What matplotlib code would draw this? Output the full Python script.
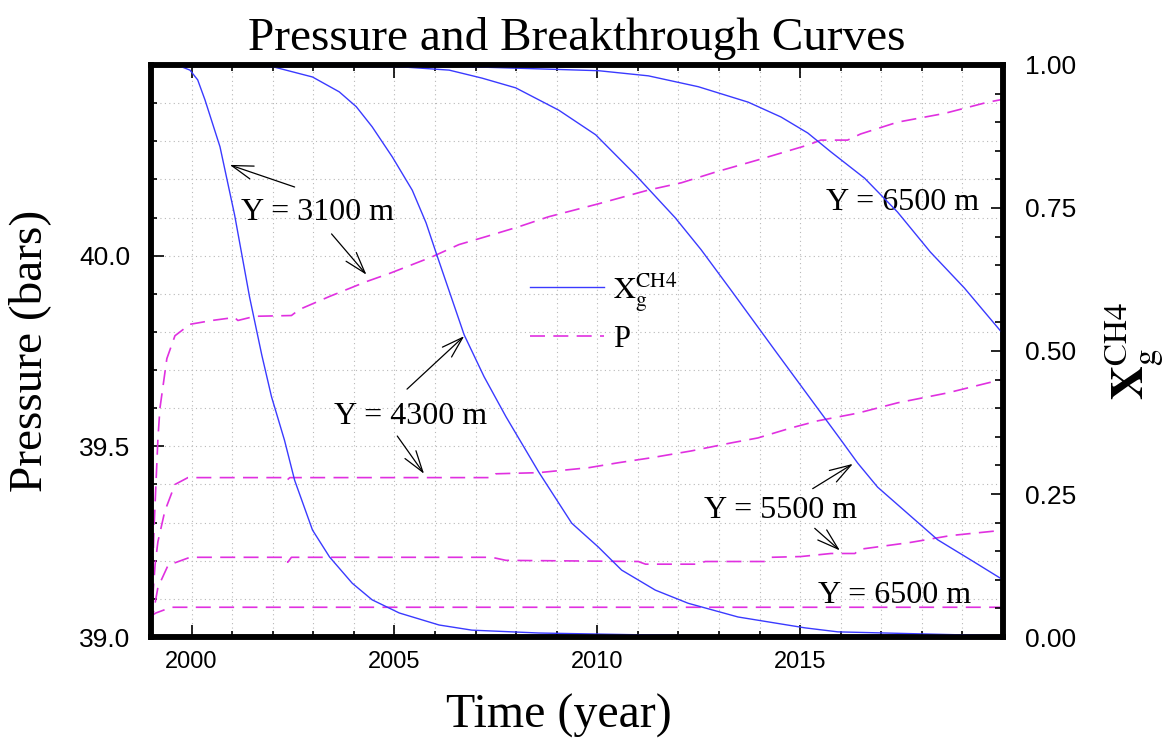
import matplotlib
matplotlib.use('Agg')
import matplotlib.pyplot as plt
from matplotlib.ticker import MultipleLocator, FormatStrFormatter

# breakthrough curves, mole fraction of CH4 in gas (right axis)
yr_3100 = [1999.0, 1999.71, 1999.96, 2000.15, 2000.33, 2000.70, 2001.06, 2001.43, 2001.73,
           2001.97, 2002.29, 2002.54, 2002.98, 2003.40, 2003.96, 2004.45, 2005.12, 2006.10,
           2006.91, 2008.56, 2012.5, 2020.0]
xg_3100 = [1.0, 0.998, 0.991, 0.974, 0.939, 0.857, 0.738, 0.594, 0.493,
           0.420, 0.344, 0.274, 0.187, 0.140, 0.094, 0.065, 0.042, 0.021,
           0.012, 0.007, 0.002, 0.0]

yr_4300 = [1999.0, 2000.94, 2002.0, 2002.98, 2003.64, 2004.06, 2004.45, 2004.95, 2005.44,
           2005.78, 2006.03, 2006.72, 2007.21, 2007.75, 2008.56, 2009.37, 2010.03, 2010.6,
           2011.43, 2012.24, 2013.47, 2015.12, 2015.93, 2020.0]
xg_4300 = [1.0, 1.0, 0.997, 0.979, 0.953, 0.927, 0.892, 0.839, 0.781,
           0.724, 0.671, 0.528, 0.455, 0.385, 0.288, 0.199, 0.157, 0.117,
           0.082, 0.059, 0.035, 0.016, 0.009, 0.002]

yr_5500 = [1999.0, 2002.66, 2005.12, 2006.35, 2007.16, 2007.99, 2009.05, 2009.96, 2010.94,
           2011.92, 2012.56, 2013.3, 2014.38, 2015.2, 2016.0, 2016.42, 2016.91, 2018.39,
           2019.2, 2020.0]
xg_5500 = [1.0, 0.998, 0.997, 0.991, 0.977, 0.960, 0.921, 0.878, 0.808,
           0.733, 0.677, 0.606, 0.501, 0.422, 0.345, 0.304, 0.262, 0.170,
           0.135, 0.100]

yr_6500 = [1999.0, 2006.35, 2010.03, 2011.26, 2012.49, 2013.72, 2014.53, 2015.19, 2015.76,
           2016.59, 2017.40, 2018.21, 2019.05, 2020.0]
xg_6500 = [1.0, 0.998, 0.990, 0.981, 0.962, 0.935, 0.909, 0.881, 0.848,
           0.802, 0.743, 0.673, 0.610, 0.530]

# pressure (left axis, bars)
pyr_3100 = [1999.0, 1999.08, 1999.17, 1999.22, 1999.39, 1999.59, 1999.96, 2000.5, 2001.06,
            2001.14, 2001.56, 2002.46, 2002.66, 2003.40, 2004.31, 2004.87, 2005.93, 2006.59,
            2007.26, 2008.07, 2008.80, 2010.03, 2011.26, 2012.07, 2012.91, 2013.96, 2015.19,
            2015.51, 2016.17, 2016.49, 2017.40, 2018.56, 2019.61, 2020.0]
p_3100 = [39.05, 39.30, 39.52, 39.60, 39.73, 39.79, 39.82, 39.830, 39.838,
          39.830, 39.841, 39.843, 39.859, 39.893, 39.932, 39.953, 39.997, 40.029,
          40.050, 40.076, 40.102, 40.136, 40.172, 40.191, 40.219, 40.251, 40.290,
          40.303, 40.303, 40.319, 40.350, 40.373, 40.402, 40.41]

pyr_4300 = [1999.0, 1999.1, 1999.17, 1999.34, 1999.59, 1999.91, 2002.29, 2002.34, 2002.42,
            2007.4, 2007.5, 2008.56, 2009.79, 2010.52, 2011.33, 2012.32, 2013.3, 2013.96,
            2014.77, 2015.44, 2016.42, 2017.4, 2018.63, 2020.0]
p_4300 = [39.04, 39.19, 39.25, 39.33, 39.40, 39.418, 39.418, 39.41, 39.418,
          39.418, 39.428, 39.431, 39.444, 39.457, 39.47, 39.488, 39.509, 39.522,
          39.548, 39.567, 39.587, 39.614, 39.64, 39.676]

pyr_5500 = [1999.0, 1999.17, 1999.42, 1999.96, 2002.32, 2002.37, 2002.46, 2007.4, 2007.75,
            2011.01, 2011.19, 2012.49, 2012.66, 2014.13, 2014.28, 2015.02, 2015.76, 2016.35,
            2016.47, 2017.72, 2018.71, 2020.0]
p_5500 = [39.03, 39.13, 39.188, 39.209, 39.209, 39.196, 39.209, 39.209, 39.201,
          39.198, 39.191, 39.191, 39.198, 39.198, 39.209, 39.211, 39.219, 39.219,
          39.23, 39.248, 39.266, 39.28]

pyr_6500 = [1999.0, 1999.12, 1999.5, 2020.0]
p_6500 = [39.055, 39.063, 39.078, 39.078]

year_ticks = [2000, 2005, 2010, 2015]
p_ticks = [39.0, 39.5, 40.0]

plt.rcParams['font.family'] = 'Liberation Serif'
plt.rcParams['mathtext.fontset'] = 'stix'

blue = '#3a3aff'
mag = '#e030e0'
dash = (0, (9, 5))

fig, ax = plt.subplots(figsize=(11.68, 7.46), dpi=100)
fig.subplots_adjust(left=0.1293, right=0.8587, bottom=0.1461, top=0.9129)
ax2 = ax.twinx()

for yr, p in [(pyr_3100, p_3100), (pyr_4300, p_4300), (pyr_5500, p_5500), (pyr_6500, p_6500)]:
    ax.plot(yr, p, color=mag, lw=1.2, linestyle=dash)
for yr, xg in [(yr_3100, xg_3100), (yr_4300, xg_4300), (yr_5500, xg_5500), (yr_6500, xg_6500)]:
    ax2.plot(yr, xg, color=blue, lw=1.0)

ax.set_xlim(1999, 2020)
ax.set_ylim(39.0, 40.5)
ax2.set_ylim(0, 1)

ax.set_xticks(year_ticks)
ax.xaxis.set_minor_locator(MultipleLocator(1))
ax.set_yticks(p_ticks)
ax.yaxis.set_minor_locator(MultipleLocator(0.1))
ax.yaxis.set_major_formatter(FormatStrFormatter('%.1f'))
ax2.yaxis.set_major_locator(MultipleLocator(0.25))
ax2.yaxis.set_minor_locator(MultipleLocator(0.05))
ax2.yaxis.set_major_formatter(FormatStrFormatter('%.2f'))

ax.grid(which='both', color='#b8b8b8', linestyle=(0, (1, 3)), lw=0.8)

ax.tick_params(which='both', direction='in', top=True, right=False, width=1.2,
               labelfontfamily='Liberation Sans')
ax.tick_params(which='major', length=9)
ax.tick_params(which='minor', length=4.5)
ax.tick_params(axis='y', pad=15, labelsize=19)
ax.tick_params(axis='x', pad=10, labelsize=17)
ax2.tick_params(which='both', direction='in', width=1.2, labelsize=19,
                labelfontfamily='Liberation Sans', pad=16)
ax2.tick_params(which='major', length=9)
ax2.tick_params(which='minor', length=6)

for a in (ax, ax2):
    for s in a.spines.values():
        s.set_linewidth(4)

ax.set_title('Pressure and Breakthrough Curves', fontsize=34, pad=11)
ax.set_xlabel('Time (year)', fontsize=34.5, labelpad=18)
ax.xaxis.set_label_coords(0.479, -0.1)
ax.xaxis.label.set_va('top')
ax.set_ylabel('Pressure (bars)', fontsize=34, labelpad=20)
ax2.set_ylabel(r'$\mathbf{X}_{\mathrm{g}}^{\mathrm{CH4}}$', fontsize=34, labelpad=19)

# annotations
arr = dict(arrowstyle='->,head_length=0.7,head_width=0.22', color='black', lw=0.9,
           mutation_scale=22, shrinkA=0, shrinkB=0)
fs = 23
ax.text(2003.1, 40.094, 'Y = 3100 m', fontsize=fs, ha='center', va='baseline')
ax.annotate('', xy=(2000.94, 40.238), xytext=(2002.54, 40.180), arrowprops=arr)
ax.annotate('', xy=(2004.31, 39.950), xytext=(2003.45, 40.057), arrowprops=arr)
ax.text(2005.40, 39.559, 'Y = 4300 m', fontsize=fs, ha='center', va='baseline')
ax.annotate('', xy=(2006.72, 39.789), xytext=(2005.31, 39.650), arrowprops=arr)
ax.annotate('', xy=(2005.73, 39.428), xytext=(2005.07, 39.527), arrowprops=arr)
ax.text(2014.53, 39.311, 'Y = 5500 m', fontsize=fs, ha='center', va='baseline')
ax.annotate('', xy=(2016.30, 39.454), xytext=(2015.31, 39.389), arrowprops=arr)
ax.annotate('', xy=(2015.98, 39.227), xytext=(2015.36, 39.285), arrowprops=arr)
ax.text(2017.53, 40.120, 'Y = 6500 m', fontsize=fs, ha='center', va='baseline')
ax.text(2017.33, 39.089, 'Y = 6500 m', fontsize=fs, ha='center', va='baseline')

h1, = ax2.plot([], [], color=blue, lw=1.0)
h2, = ax.plot([], [], color=mag, lw=1.2, linestyle=dash)
ax2.legend([h1, h2], [r'$\mathrm{X_g^{CH4}}$', 'P'], loc='upper left',
           bbox_to_anchor=(0.413, 0.69), frameon=False, fontsize=22,
           handlelength=2.4, handletextpad=0.3, labelspacing=0.35)

fig.savefig('out.png', dpi=100)
